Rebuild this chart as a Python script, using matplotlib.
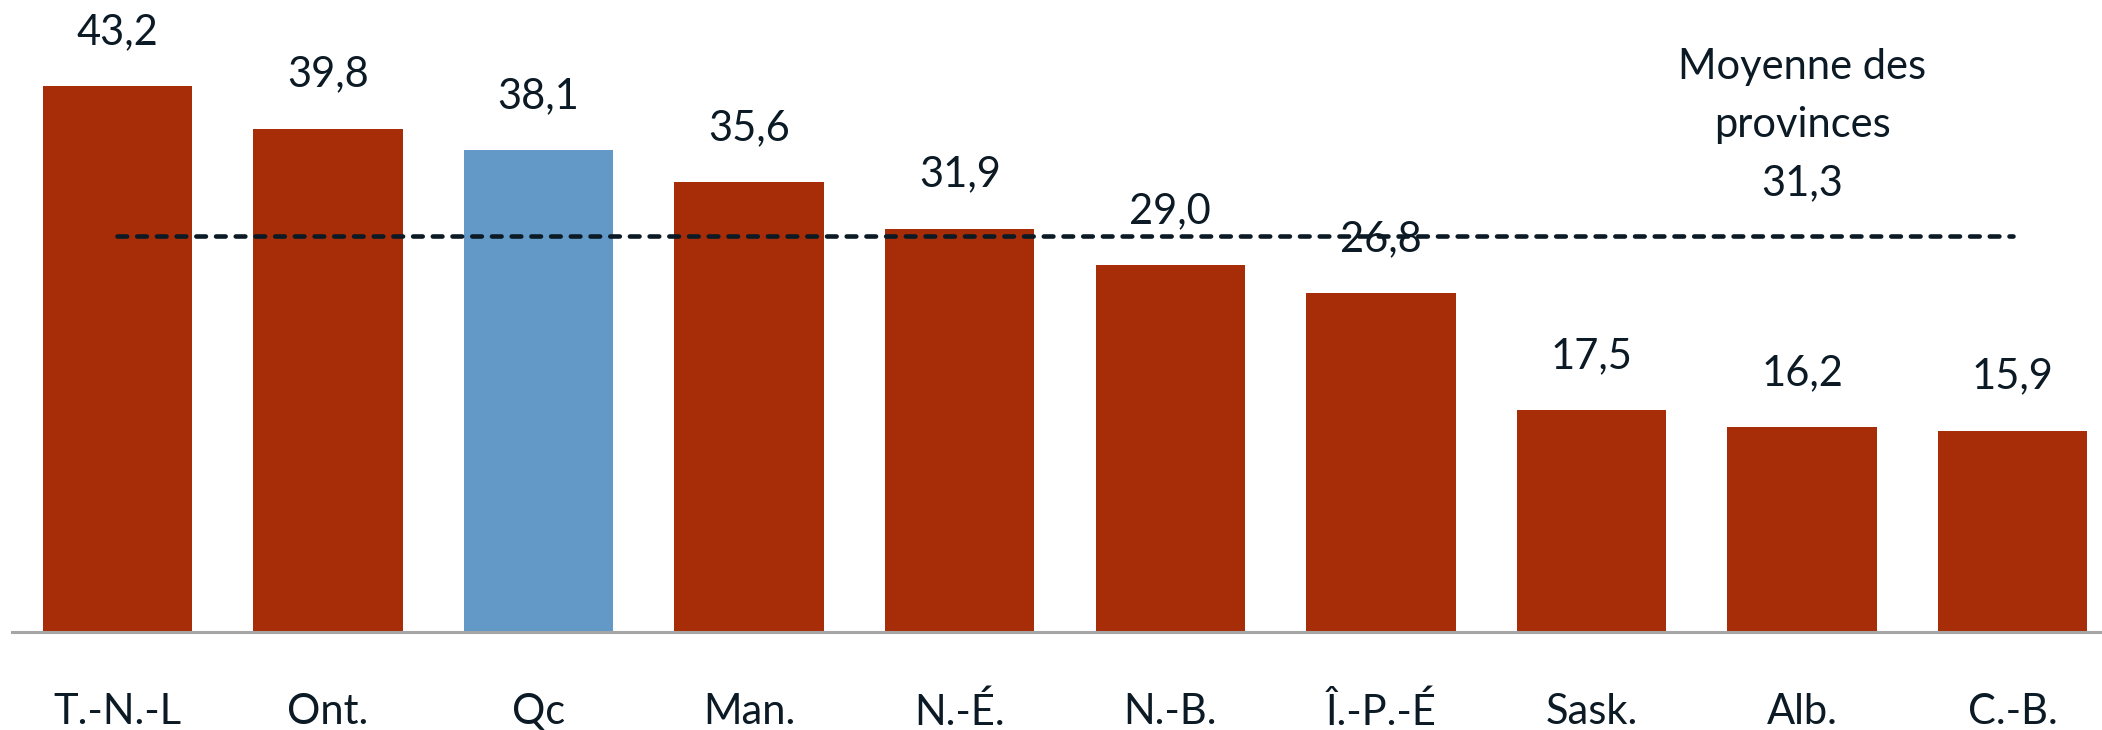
import matplotlib.pyplot as plt
import numpy as np

# Provinces and values
provinces = ['T.-N.-L', 'Ont.', 'Qc', 'Man.', 'N.-É.', 'N.-B.', 'Î.-P.-É', 'Sask.', 'Alb.', 'C.-B.']
values = [43.2, 39.8, 38.1, 35.6, 31.9, 29.0, 26.8, 17.5, 16.2, 15.9]
highlight = 'Qc'
average = 31.3

red = '#A62D07'
blue = '#6399C7'
ink = '#0B1A24'

plt.rcParams['font.family'] = ['Lato', 'DejaVu Sans']

fig = plt.figure(figsize=(21.02, 7.30), dpi=100)
ax = fig.add_axes([12 / 2102, 98.5 / 730, 1 - 12 / 2102, 631.5 / 730])

x = np.arange(len(provinces))
colors = [blue if p == highlight else red for p in provinces]
bars = ax.bar(x, values, width=0.71, color=colors, zorder=2)

# value labels above the bars
for xi, v in zip(x, values):
    ax.annotate(f'{v:.1f}'.replace('.', ','), (xi, v), xytext=(0, 39),
                textcoords='offset points', ha='center', va='center',
                fontsize=30, color=ink, zorder=4)

# provincial average
ax.plot([x[0], x[-1]], [average, average], color=ink, lw=3.3,
        dashes=(2.1, 2.2), dash_capstyle='round', zorder=3)
ax.text(8.0, 40.1, 'Moyenne des\nprovinces\n' + f'{average:.1f}'.replace('.', ','),
        ha='center', va='center', fontsize=30, color=ink, linespacing=1.66)

ax.set_xlim(-0.5, 9.424)
ax.set_ylim(0, 50)
ax.set_xticks(x)
ax.set_xticklabels(provinces, fontsize=30, color=ink)
ax.tick_params(axis='x', length=0, pad=44)
ax.set_yticks([])
for side in ['top', 'right', 'left']:
    ax.spines[side].set_visible(False)
ax.spines['bottom'].set_color('#A6A6A6')
ax.spines['bottom'].set_linewidth(2.2)

fig.savefig('out.png', dpi=100)
